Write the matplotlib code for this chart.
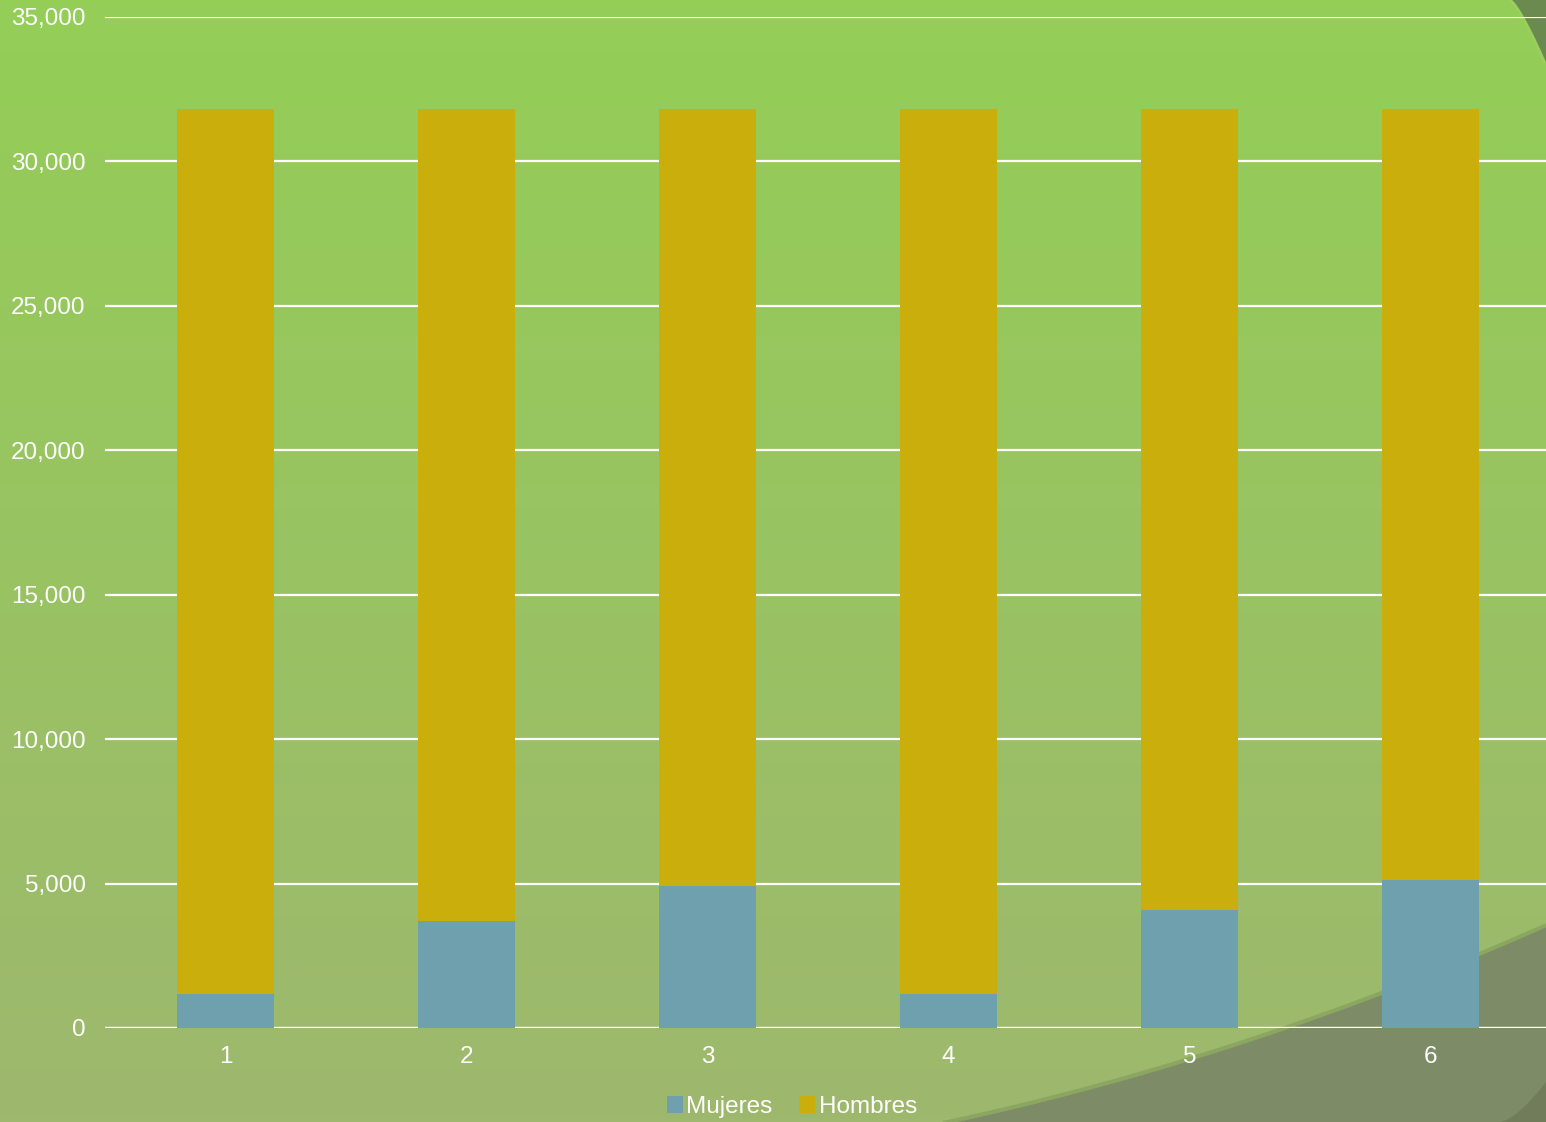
import numpy as np
import matplotlib
matplotlib.use("Agg")
import matplotlib.pyplot as plt
from matplotlib.patches import Polygon, Patch
from matplotlib.ticker import FuncFormatter

categories = ["1", "2", "3", "4", "5", "6"]
mujeres = [1170, 3720, 4900, 1180, 4090, 5110]
hombres = [30650, 28100, 26920, 30640, 27730, 26690]

plt.rcParams['font.family'] = ['Liberation Sans', 'DejaVu Sans']

W, H = 1546, 1122
fig = plt.figure(figsize=(W / 100, H / 100), dpi=100)

# background
bg = fig.add_axes([0, 0, 1, 1], zorder=0)
bg.set_xlim(0, W)
bg.set_ylim(H, 0)
bg.axis('off')
top = np.array([148, 206, 87]) / 255
bot = np.array([158, 184, 110]) / 255
t = np.linspace(0, 1, 256)[:, None]
grad = top[None, :] * (1 - t) + bot[None, :] * t
bg.imshow(grad[:, None, :].repeat(2, axis=1), extent=[0, W, H, 0], aspect='auto')

# bottom-right swoosh
xs = np.linspace(940, W, 60)
px = np.array([940, 1120, 1293, 1383, 1546])
py = np.array([1125, 1083, 1027, 993, 928])
coef = np.polyfit(px, py, 2)
ys = np.polyval(coef, xs)
poly = np.column_stack([np.r_[xs, W, 940], np.r_[ys, H, H]])
bg.add_patch(Polygon(poly, closed=True, facecolor='#7e8b67', edgecolor='none'))
bg.plot(xs, ys - 2, color='#7a9556', lw=3, alpha=0.5, solid_capstyle='butt')
cx = np.linspace(1500, W, 20)
cy = H - 40 * ((cx - 1500) / 46) ** 1.5
bg.add_patch(Polygon(np.column_stack([np.r_[cx, W], np.r_[cy, H]]), closed=True,
                     facecolor='#66704f', edgecolor='none', alpha=0.5))

# top-right swoosh
tys = np.linspace(0, 62, 30)
txs = 1512 + 34 * (tys / 62) ** 0.8
tpoly = np.column_stack([np.r_[txs, W, W], np.r_[tys, 62, 0]])
bg.add_patch(Polygon(tpoly, closed=True, facecolor='#6b8a4f', edgecolor='none'))
bg.plot(txs - 2, tys, color='#9fd266', lw=1.5, alpha=0.6)

# main axes
left = 105 / W
right_px = 1551
bottom = 1 - 1028 / H
topf = 1 - 17 / H
ax = fig.add_axes([left, bottom, (right_px - 105) / W, topf - bottom], zorder=1)
ax.patch.set_alpha(0)
x = np.arange(len(categories))
ax.bar(x, mujeres, width=0.4, color='#6fa0ae', label='Mujeres', zorder=3)
ax.bar(x, hombres, width=0.4, bottom=mujeres, color='#caaf0c', label='Hombres', zorder=3)
ax.set_xlim(-0.5, 5.5)
ax.set_ylim(0, 35000)
ax.set_yticks(np.arange(0, 35001, 5000))
ax.yaxis.set_major_formatter(FuncFormatter(lambda v, p: f"{int(v):,}"))
ax.set_xticks(x)
ax.set_xticklabels(categories)
ax.grid(axis='y', color='white', lw=1.6, zorder=1)
ax.set_axisbelow(True)
for s in ax.spines.values():
    s.set_visible(False)
ax.axhline(0, color='white', lw=1.6, zorder=2)
ax.tick_params(axis='both', length=0, colors='white', labelsize=17.5)
ax.tick_params(axis='y', pad=14)
ax.tick_params(axis='x', pad=13)

handles = [Patch(facecolor='#6fa0ae'), Patch(facecolor='#caaf0c')]
fig.legend(handles, ['Mujeres', 'Hombres'], loc='center', bbox_to_anchor=(792 / W, 1 - 1107 / H),
           ncol=2, frameon=False, fontsize=17.5, labelcolor='white', handlelength=0.65, handleheight=0.65,
           handletextpad=0.15, columnspacing=1.1, borderpad=0)

fig.savefig('out.png', dpi=100)
